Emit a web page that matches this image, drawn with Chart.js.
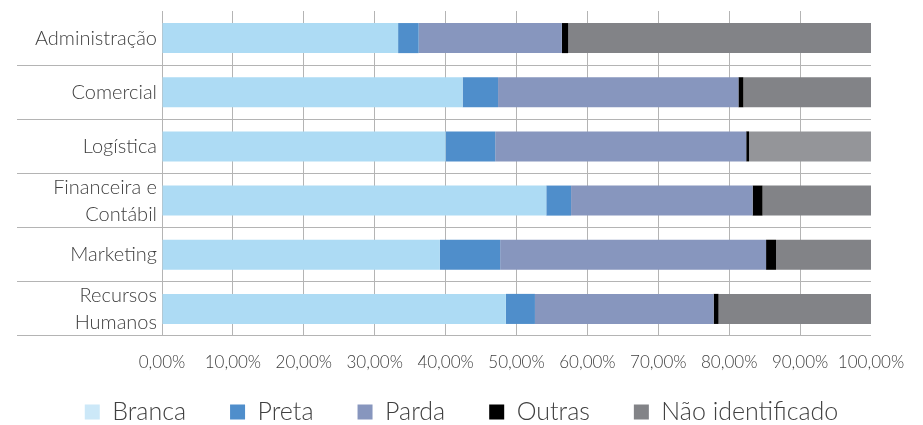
<!DOCTYPE html>
<html>
<head>
<meta charset="utf-8">
<script src="https://cdn.jsdelivr.net/npm/chart.js@4/dist/chart.umd.min.js"></script>
<style>
  html, body { margin: 0; padding: 0; background: #fff; }
  #wrap { width: 923px; height: 425px; }
</style>
</head>
<body>
<div id="wrap"><canvas id="chart"></canvas></div>
<script>
// areas (multi-line labels as arrays)
const areas = ['Administração', 'Comercial', 'Logística', ['Financeira e', 'Contábil'], 'Marketing', ['Recursos', 'Humanos']];

// share of each group per area, in %
const branca = [33.3, 42.4, 40.0, 54.2, 39.2, 48.5];
const preta = [2.9, 5.0, 7.0, 3.5, 8.5, 4.1];
const parda = [20.2, 33.9, 35.4, 25.6, 37.5, 25.2];
const outras = [0.9, 0.7, 0.4, 1.4, 1.4, 0.7];
const naoIdentificado = [42.7, 18.0, 17.2, 15.3, 13.4, 21.5];

const xTicks = [0, 10, 20, 30, 40, 50, 60, 70, 80, 90, 100];

const textColor = '#404040';
const gridColor = '#b4b4b4';

Chart.defaults.font.family = 'Lato, "Open Sans", sans-serif';
Chart.defaults.font.weight = '300';
Chart.defaults.color = textColor;

const pct = v => v.toFixed(2).replace('.', ',') + '%';

new Chart(document.getElementById('chart'), {
  type: 'bar',
  data: {
    labels: areas,
    datasets: [
      { label: 'Branca', data: branca, backgroundColor: '#ADDBF4' },
      { label: 'Preta', data: preta, backgroundColor: '#4F8ECB' },
      { label: 'Parda', data: parda, backgroundColor: '#8796BE' },
      { label: 'Outras', data: outras, backgroundColor: '#000000' },
      { label: 'Não identificado', data: naoIdentificado,
        backgroundColor: ['#828387', '#828387', '#949599', '#828387', '#828387', '#828387'] }
    ]
  },
  options: {
    indexAxis: 'y',
    responsive: true,
    maintainAspectRatio: false,
    animation: false,
    layout: { padding: { top: 11, right: 0, left: 0, bottom: 0 } },
    datasets: {
      bar: { barPercentage: 0.555, categoryPercentage: 1, borderWidth: 0 }
    },
    scales: {
      x: {
        stacked: true,
        min: 0,
        max: 100,
        afterBuildTicks: s => { s.ticks = xTicks.map(v => ({ value: v })); },
        afterFit: s => {
          // keep the axis box short so the legend sits close, but don't clip the labels
          s.height = 19.5;
          s._computeLabelArea = () => null;
        },
        border: { display: false },
        grid: {
          drawTicks: false,
          color: ctx => (ctx.tick && ctx.tick.value === 100) ? 'rgba(0,0,0,0)' : gridColor,
          lineWidth: 1
        },
        ticks: {
          padding: 16,
          autoSkip: false,
          maxRotation: 0,
          minRotation: 0,
          font: { size: 17 },
          callback: v => pct(v)
        }
      },
      y: {
        stacked: true,
        afterFit: s => { s.width = 162; },
        border: { display: false },
        grid: {
          offset: true,
          drawTicks: true,
          tickLength: 145,
          color: ctx => ctx.index === 0 ? 'rgba(0,0,0,0)' : gridColor,
          lineWidth: 1
        },
        ticks: {
          padding: -140,
          autoSkip: false,
          font: { size: 20, lineHeight: 1.35 }
        }
      },
      // empty right-hand strip so the plot stops at 100% while the legend stays centred
      spacer: {
        type: 'category',
        position: 'right',
        afterFit: s => { s.width = 52; },
        border: { display: false },
        grid: { display: false },
        ticks: { display: false }
      }
    },
    plugins: {
      tooltip: { enabled: false },
      legend: {
        position: 'bottom',
        maxHeight: 69.5,
        labels: {
          boxWidth: 15,
          boxHeight: 15,
          padding: 44,
          font: { size: 25 },
          generateLabels: chart => {
            const items = Chart.defaults.plugins.legend.labels.generateLabels(chart);
            items.forEach(it => {
              it.lineWidth = 0;
              if (it.text === 'Branca') it.fillStyle = '#CCE8F8';
            });
            return items;
          }
        }
      }
    }
  }
});
</script>
</body>
</html>
